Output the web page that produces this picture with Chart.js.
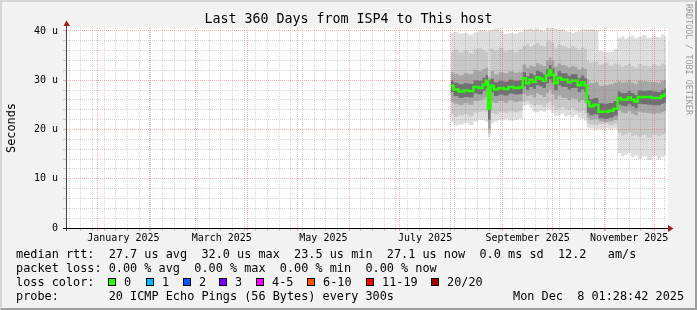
<!DOCTYPE html>
<html>
<head>
<meta charset="utf-8">
<title>Last 360 Days from ISP4 to This host</title>
<script src="https://cdn.jsdelivr.net/npm/chart.js@4.4.1/dist/chart.umd.min.js"></script>
<style>
  html, body { margin:0; padding:0; background:#f2f2f2; }
  #wrap { position:relative; width:697px; height:310px; overflow:hidden; background:#f2f2f2; }
  #c { position:absolute; left:0; top:0; }
  .frame { position:absolute; left:0; top:0; width:697px; height:310px; box-sizing:border-box;
           border-top:2px solid #d6d6d6; border-left:2px solid #d6d6d6;
           border-right:2px solid #9e9e9e; border-bottom:2px solid #9e9e9e; pointer-events:none; }
  .txt { position:absolute; font-family:'DejaVu Sans Mono', monospace; white-space:pre; color:#000; }
  .leg { font-size:11.85px; line-height:14px; }
  .box { position:absolute; width:8px; height:8px; box-sizing:border-box; border:1px solid #000; }
</style>
</head>
<body>
<div id="wrap">
  <canvas id="c" width="697" height="310"></canvas>
  <div class="txt" style="left:0;top:11px;width:697px;text-align:center;font-size:13.3px;line-height:16px;">Last 360 Days from ISP4 to This host</div>
  <div class="txt" style="left:11px;top:128px;font-size:11.85px;line-height:14px;transform:translate(-50%,-50%) rotate(-90deg);">Seconds</div>
  <div class="txt" style="left:684px;top:4px;font-size:8.4px;line-height:10px;color:#9a9a9a;writing-mode:vertical-rl;">RRDTOOL / TOBI OETIKER</div>
  <div class="txt leg" style="left:16px;top:247px;">median rtt:  27.7 us avg  32.0 us max  23.5 us min  27.1 us now  0.0 ms sd  12.2   am/s</div>
  <div class="txt leg" style="left:16px;top:261px;">packet loss: 0.00 % avg  0.00 % max  0.00 % min  0.00 % now</div>
  <div class="txt leg" style="left:16px;top:275px;">loss color:</div>
  <div id="lossLegend"></div>
  <div class="txt leg" style="left:16px;top:289px;">probe:       20 ICMP Echo Pings (56 Bytes) every 300s</div>
  <div class="txt leg" style="left:513px;top:289px;">Mon Dec  8 01:28:42 2025</div>
  <div class="frame"></div>
</div>
<script>
// ---------- data (x in days since graph start, y in microseconds) ----------
const days = [231,234,237,240,243,246,249,251,252.5,254,255.5,258,261,264,267,270,273,275,277,279,281,283,285,287,289,290.5,292,294,296,298,300,302,304,306,308,310,312,313,315,318,321,324,327,330,332,334,336,338,340,342,344,347,350,353,356,358,360];

const median = [28.9,28.1,27.7,27.9,27.8,28.6,28.4,29.1,29.9,24.2, 28.9,28.1,28.4,28.2,28.6,28.4,28.5,30.4,29.4,30.1, 29.7,30.6,30.3,29.9,31.0,32.0,31.1,29.4,30.5,30.1, 30.1,29.6,29.9,29.9,29.0,29.6,29.0,25.6,24.7,25.0, 23.6,23.6,23.8,24.2,26.4,26.1,26.1,26.5,26.1,25.7, 26.6,26.6,26.6,26.4,26.4,26.8,27.1];

// smoke envelopes (outer -> inner)
const hi1 = [39.6,39.8,39.5,39.6,39.3,39.7,40.2,40.0,39.9,40.0, 40.3,40.5,40.0,39.4,39.6,39.5,39.8,40.3,40.4,40.5, 40.3,40.5,40.2,40.0,40.6,40.6,40.6,40.5,40.2,40.4, 40.0,39.8,39.6,39.8,40.1,40.3,40.4,40.3,40.4,40.2, 36.0,35.7,35.8,36.4,38.6,38.9,38.4,38.8,39.1,38.5, 38.8,39.2,38.6,38.9,38.7,39.3,39.0];
const lo1 = [21.5,20.8,21.0,21.3,20.9,21.6,22.0,21.8,21.5,18.4, 21.2,21.6,22.0,22.1,21.8,22.0,22.2,24.8,25.0,24.4, 23.6,23.5,23.8,23.6,24.2,24.0,23.3,22.7,22.9,23.2, 22.6,22.9,22.5,23.0,22.4,22.2,21.8,20.4,20.2,20.0, 20.1,20.3,20.0,20.2,15.2,14.6,14.9,15.3,14.3,14.7, 14.0,14.5,13.8,14.6,13.9,14.4,14.8];
const hi2 = [35.8,36.2,35.6,36.0,35.4,36.3,36.5,36.1,35.8,30.8, 36.4,36.0,36.6,35.9,36.2,35.7,36.3,37.0,37.4,36.8, 37.2,37.6,37.1,36.9,37.8,38.0,37.5,36.6,37.2,37.0, 36.8,36.5,36.9,36.6,36.2,36.7,36.4,34.0,33.6,33.8, 33.2,33.5,33.0,33.4,33.2,32.8,33.1,33.4,32.9,32.6, 33.3,33.0,32.8,33.2,32.9,33.4,33.1];
const lo2 = [23.2,22.6,22.9,23.1,22.7,23.4,23.6,23.8,23.5,19.2, 23.3,23.1,23.6,23.4,23.7,23.5,23.8,25.6,25.8,25.2, 24.8,25.0,24.9,24.6,25.3,25.6,24.8,24.0,24.3,24.5, 24.2,24.0,24.3,23.9,23.6,23.8,23.2,21.2,21.0,20.9, 21.1,21.2,20.9,21.1,19.4,18.8,19.0,19.5,18.7,18.9, 18.5,18.9,18.4,19.0,18.6,18.9,19.3];
const hi3 = [31.6,31.3,31.0,31.4,31.2,32.0,31.8,32.3,32.6,30.4, 31.9,31.2,31.6,31.4,31.8,31.5,31.7,33.2,32.6,33.0, 32.8,33.5,33.2,32.9,34.0,34.6,34.0,32.8,33.4,33.1, 33.0,32.6,32.9,32.7,32.2,32.6,32.3,30.2,29.4,29.6, 28.9,29.0,29.2,29.5,29.8,29.5,29.6,30.0,29.5,29.2, 29.9,29.8,29.7,29.6,29.5,29.9,30.1];
const lo3 = [25.6,25.2,24.9,25.3,25.0,25.8,25.9,26.3,26.6,20.2, 25.7,25.4,25.8,25.5,25.9,25.6,25.8,27.2,26.8,27.0, 26.5,27.3,27.0,26.6,27.4,28.0,27.2,26.2,26.9,26.5, 26.4,26.0,26.3,26.2,25.6,26.0,25.5,22.4,22.0,22.2, 21.6,21.5,21.6,21.9,23.8,23.4,23.3,23.7,23.2,22.9, 23.6,23.4,23.3,23.2,23.3,23.5,23.8];
const hi4 = [30.0,29.5,29.2,29.4,29.3,30.0,29.9,30.5,31.0,30.0, 30.3,29.6,29.9,29.7,30.1,29.9,30.0,31.6,30.8,31.4, 31.0,31.9,31.6,31.2,32.3,33.1,32.4,30.8,31.8,31.4, 31.4,30.9,31.2,31.2,30.4,30.9,30.4,27.0,26.2,26.4, 25.3,25.2,25.4,25.8,27.7,27.4,27.4,27.8,27.4,27.0, 27.9,27.8,27.9,27.7,27.6,28.0,28.3];
const lo4 = [27.6,26.8,26.4,26.6,26.5,27.3,27.1,27.8,28.3,22.0, 27.5,26.8,27.1,26.9,27.3,27.1,27.2,28.8,28.0,28.6, 28.2,29.0,28.8,28.4,29.4,30.2,29.5,28.0,29.0,28.6, 28.6,28.1,28.4,28.4,27.6,28.1,27.6,23.4,22.9,23.1, 22.3,22.2,22.4,22.8,25.0,24.8,24.7,25.1,24.7,24.3, 25.2,25.1,25.0,24.9,24.9,25.2,25.5];

// axis tick labels
const xTickLabels = ['January 2025','March 2025','May 2025','July 2025','September 2025','November 2025'];
const xLabelMonths = [0, 2, 4, 6, 8, 10];
const yTickValues = [0,2,4,6,8,10,12,14,16,18,20,22,24,26,28,30,32,34,36,38,40];

// loss colour legend
const lossLabels = ['0','1','2','3','4-5','6-10','11-19','20/20'];
const lossColors = ['#26ff00','#00b8ff','#0059ff','#7e00ff','#ff00ff','#ff5500','#ff0000','#a10000'];
const lossBoxLeft = [108,146,183,219,256,307,366,431];

// ---------- build ----------
const legendHost = document.getElementById('lossLegend');
lossLabels.forEach((lbl, i) => {
  const b = document.createElement('div');
  b.className = 'box';
  b.style.left = lossBoxLeft[i] + 'px';
  b.style.top = '278px';
  b.style.background = lossColors[i];
  legendHost.appendChild(b);
  const t = document.createElement('div');
  t.className = 'txt leg';
  t.style.left = (lossBoxLeft[i] + 16) + 'px';
  t.style.top = '275px';
  t.textContent = lbl;
  legendHost.appendChild(t);
});

const START_MS = Date.UTC(2024, 11, 13, 1, 28, 42);
const dayOf = (y, m, d) => (Date.UTC(y, m, d) - START_MS) / 864e5;

const xTicks = [];
for (let m = 0; m < 12; m++) xTicks.push({ value: dayOf(2025, m, 1), kind: 'M' });
for (let t = dayOf(2024, 11, 15); t < 360; t += 7) {
  if (!xTicks.some(k => k.kind === 'M' && Math.abs(k.value - t) < 0.5)) xTicks.push({ value: t, kind: 'w' });
}
xTickLabels.forEach((lbl, i) => {
  const m = xLabelMonths[i];
  const dim = new Date(Date.UTC(2025, m + 1, 0)).getUTCDate();
  xTicks.push({ value: dayOf(2025, m, 1) + dim / 2, kind: 'L', lbl });
});
xTicks.sort((a, b) => a.value - b.value);

const pts = arr => days.map((d, i) => ({ x: d, y: arr[i] }));
const NONE = 'rgba(0,0,0,0)';
const edge = arr => ({ data: pts(arr), borderColor: NONE, borderWidth: 0, fill: false, stepped: 'middle', pointRadius: 0 });
const area = (arr, target, color) => ({ data: pts(arr), borderColor: NONE, borderWidth: 0, fill: target, backgroundColor: color, stepped: 'middle', pointRadius: 0 });

const datasets = [
  { data: pts(median), borderColor: '#26ff00', borderWidth: 2.5, stepped: 'middle', fill: false, pointRadius: 0 },
  { data: pts(median), borderColor: '#202020', borderWidth: 1, stepped: 'middle', fill: false, pointRadius: 0 },
  edge(lo4), area(hi4, 2, '#707070'),
  edge(lo3), area(hi3, 4, '#a6a6a6'),
  edge(lo2), area(hi2, 6, '#c8c8c8'),
  edge(lo1), area(hi1, 8, '#dedede')
];

const GRID_MINOR = 'rgba(128,128,128,0.33)';
const GRID_MAJOR = 'rgba(230,70,70,0.42)';

const plotBg = {
  id: 'plotBg',
  beforeDraw(chart) {
    const { ctx, chartArea: a } = chart;
    ctx.save();
    ctx.fillStyle = '#ffffff';
    ctx.fillRect(a.left, a.top, a.right - a.left + 2, a.bottom - a.top);
    ctx.restore();
  }
};
const axesDeco = {
  id: 'axesDeco',
  afterDraw(chart) {
    const { ctx, chartArea: a } = chart;
    const x0 = a.left + 0.5, y0 = a.bottom + 0.5;
    ctx.save();
    ctx.lineWidth = 1;
    ctx.strokeStyle = '#404040';
    ctx.beginPath(); ctx.moveTo(x0, a.bottom + 3); ctx.lineTo(x0, a.top - 3); ctx.stroke();
    ctx.strokeStyle = '#000000';
    ctx.beginPath(); ctx.moveTo(a.left - 3, y0); ctx.lineTo(a.right + 3, y0); ctx.stroke();
    ctx.fillStyle = '#9a2020';
    ctx.beginPath(); ctx.moveTo(x0 - 3, a.top - 2); ctx.lineTo(x0 + 3.5, a.top - 2); ctx.lineTo(x0, a.top - 7.5); ctx.closePath(); ctx.fill();
    ctx.beginPath(); ctx.moveTo(a.right + 2, y0 - 3.5); ctx.lineTo(a.right + 2, y0 + 3.5); ctx.lineTo(a.right + 7.5, y0); ctx.closePath(); ctx.fill();
    ctx.restore();
  }
};

Chart.defaults.font.family = "'DejaVu Sans Mono', monospace";
Chart.defaults.color = '#000';

new Chart(document.getElementById('c'), {
  type: 'line',
  data: { datasets },
  options: {
    responsive: false,
    animation: false,
    devicePixelRatio: 1,
    events: [],
    layout: { padding: { left: 0, top: 28, right: 31, bottom: 62 } },
    plugins: { legend: { display: false }, tooltip: { enabled: false }, filler: { propagate: false } },
    elements: { line: { tension: 0 }, point: { radius: 0 } },
    scales: {
      x: {
        type: 'linear', min: 0, max: 360,
        afterFit(s) { s.height = 20; },
        afterBuildTicks(s) { s.ticks = xTicks.map(t => Object.assign({}, t)); },
        grid: {
          z: 1, lineWidth: 1, tickLength: 3, drawTicks: true,
          color: c => (c.tick && c.tick.kind === 'M') ? GRID_MAJOR : (c.tick && c.tick.kind === 'L') ? NONE : GRID_MINOR
        },
        border: { display: false, dash: [1, 1] },
        ticks: {
          autoSkip: false, maxRotation: 0, minRotation: 0, padding: 1,
          font: { size: 10 }, color: '#000',
          callback: (v, i, ticks) => ticks[i].lbl || ''
        }
      },
      y: {
        type: 'linear', min: 0, max: 40.6,
        afterFit(s) { s.width = 66; },
        afterBuildTicks(s) { s.ticks = yTickValues.map(v => ({ value: v })); },
        grid: {
          z: 1, lineWidth: 1, tickLength: 3, drawTicks: true,
          color: c => (c.tick && c.tick.value % 10 === 0) ? GRID_MAJOR : GRID_MINOR
        },
        border: { display: false, dash: [1, 1] },
        ticks: {
          autoSkip: false, padding: 5, font: { size: 10 }, color: '#000',
          callback: v => (v % 10 === 0) ? (v === 0 ? '0' : v + ' u') : ''
        }
      }
    }
  },
  plugins: [plotBg, axesDeco]
});
</script>
</body>
</html>
